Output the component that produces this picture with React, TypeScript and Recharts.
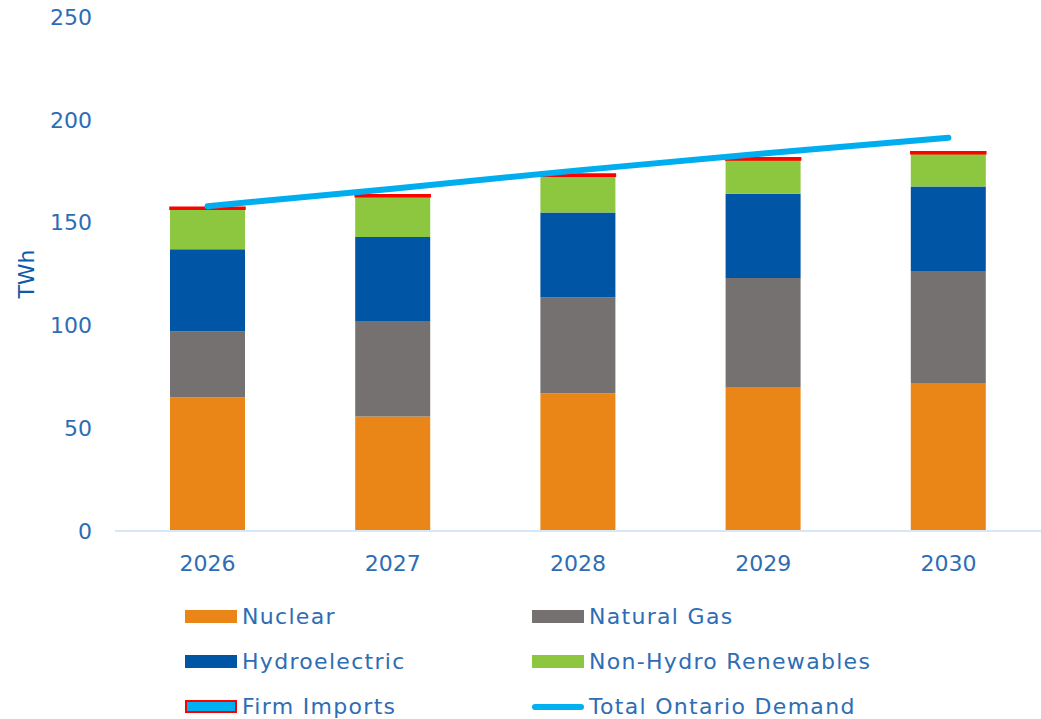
import {
  ComposedChart,
  Bar,
  Line,
  XAxis,
  YAxis,
} from "recharts";

const years = ["2026", "2027", "2028", "2029", "2030"];
const nuclear = [65, 55.7, 67, 70, 72];
const naturalGas = [32, 46.4, 46.6, 53, 54.5];
const hydroelectric = [40, 40.9, 41.3, 41, 41];
const nonHydroRenewables = [19.5, 19.6, 17.7, 16.5, 16];
const firmImports = [1, 1, 1, 1, 1];
const totalDemand = [158, 166.5, 175.4, 183.6, 191.3];
const yTicks = [0, 50, 100, 150, 200, 250];

const FONT = "'DejaVu Sans', sans-serif";
const TICK_COLOR = "#2E6DB4";

const data = years.map((year, i) => ({
  year,
  nuclear: nuclear[i],
  gas: naturalGas[i],
  hydro: hydroelectric[i],
  nhr: nonHydroRenewables[i],
  imports: firmImports[i],
  demand: totalDemand[i],
}));

const legendItems = [
  { label: "Nuclear", color: "#EA8617", kind: "box" },
  { label: "Natural Gas", color: "#767171", kind: "box" },
  { label: "Hydroelectric", color: "#0055A4", kind: "box" },
  { label: "Non-Hydro Renewables", color: "#8DC63F", kind: "box" },
  { label: "Firm Imports", color: "#00B0F0", kind: "imports" },
  { label: "Total Ontario Demand", color: "#00B0F0", kind: "line" },
];

function ChartLegend() {
  return (
    <div
      style={{
        position: "absolute",
        left: 185,
        top: 594,
        display: "grid",
        gridTemplateColumns: "347px 347px",
        fontFamily: FONT,
        fontSize: 22,
        color: TICK_COLOR,
      }}
    >
      {legendItems.map((item) => (
        <div
          key={item.label}
          style={{ display: "flex", alignItems: "center", height: 45 }}
        >
          {item.kind === "line" ? (
            <span
              style={{
                display: "inline-block",
                width: 52,
                height: 6,
                borderRadius: 3,
                background: item.color,
              }}
            />
          ) : (
            <span
              style={{
                display: "inline-block",
                width: item.kind === "imports" ? 48 : 52,
                height: item.kind === "imports" ? 9 : 13,
                background: item.color,
                border: item.kind === "imports" ? "2px solid #FF0000" : "none",
              }}
            />
          )}
          <span style={{ marginLeft: 5, letterSpacing: 1.3 }}>{item.label}</span>
        </div>
      ))}
    </div>
  );
}

export default function App() {
  return (
    <div
      style={{
        position: "absolute",
        left: 0,
        top: 0,
        width: 1041,
        height: 719,
        background: "#fff",
      }}
    >
      <ComposedChart
        width={1041}
        height={719}
        data={data}
        margin={{ top: 17, right: 0, bottom: 158, left: 0 }}
        barSize={75}
      >
        <XAxis
          dataKey="year"
          height={30}
          axisLine={{ stroke: "#D6E8F8", strokeWidth: 2 }}
          tickLine={false}
          tickMargin={18}
          tick={{ fontSize: 22, fill: TICK_COLOR, fontFamily: FONT }}
        />
        <YAxis
          width={115}
          domain={[0, 250]}
          ticks={yTicks}
          axisLine={false}
          tickLine={false}
          tickMargin={17}
          tick={{ fontSize: 22, fill: TICK_COLOR, fontFamily: FONT }}
          label={({ viewBox }: any) => {
            const cy = viewBox.y + viewBox.height / 2;
            return (
              <text
                x={26}
                y={cy}
                transform={`rotate(-90 26 ${cy})`}
                textAnchor="middle"
                dominantBaseline="central"
                fill="#0F5AA8"
                fontFamily={FONT}
                fontSize={22}
              >
                TWh
              </text>
            );
          }}
        />
        <Bar dataKey="nuclear" stackId="s" fill="#EA8617" isAnimationActive={false} />
        <Bar dataKey="gas" stackId="s" fill="#767171" isAnimationActive={false} />
        <Bar dataKey="hydro" stackId="s" fill="#0055A4" isAnimationActive={false} />
        <Bar dataKey="nhr" stackId="s" fill="#8DC63F" isAnimationActive={false} />
        <Bar
          dataKey="imports"
          stackId="s"
          fill="#FF0000"
          stroke="#FF0000"
          strokeWidth={1.5}
          isAnimationActive={false}
        />
        <Line
          dataKey="demand"
          type="linear"
          stroke="#00AEEF"
          strokeWidth={6}
          strokeLinecap="round"
          dot={false}
          activeDot={false}
          isAnimationActive={false}
        />
      </ComposedChart>
      <ChartLegend />
    </div>
  );
}
